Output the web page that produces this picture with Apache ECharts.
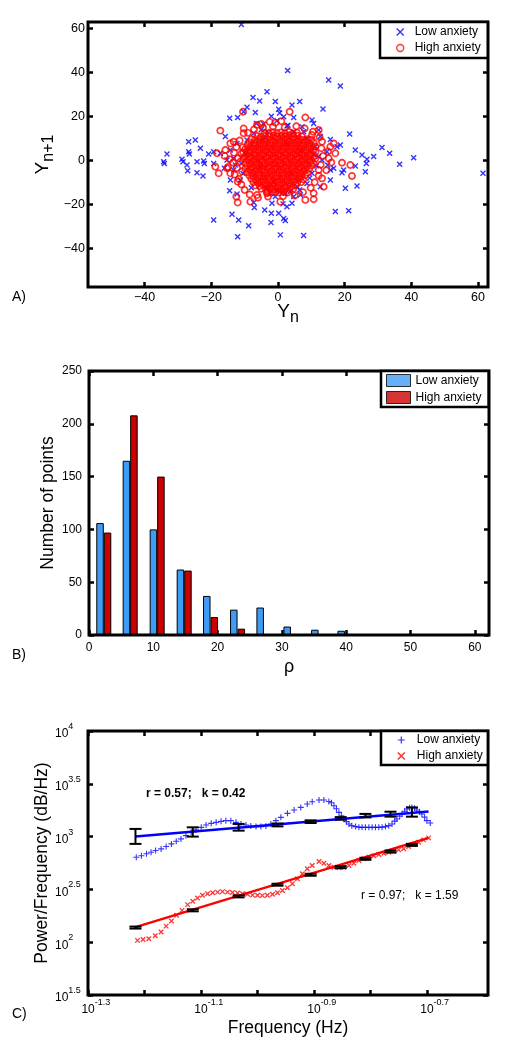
<!DOCTYPE html>
<html><head><meta charset="utf-8">
<script src="https://cdn.jsdelivr.net/npm/echarts@6/dist/echarts.min.js"></script>
<style>html,body{margin:0;padding:0;background:#fff}#c{width:516px;height:1050px}</style>
</head><body><div id="c"></div>
<script>
// ================= DATA =================
// Panel A: return map (Y_n, Y_n+1)
const lowAnxietyPts = [
[-11,61.8],[2.9,40.8],[15.2,36.5],[18.7,33.8],[-3.3,31.2],[-7.5,28.6],[-5.5,27],[-0.8,26.7],[6.5,26.7],[4.2,25.2],[-9.3,24.1],[13.5,23.3],[-10.3,22.1],[-6.8,21.8],[0.2,23.2],[1.7,19.8],[4.7,19.5],[-14.5,19.1],[-12.1,19.5],[7.2,15.3],[10.2,18.3],[10.7,16.8],[-6.5,16.8],[-4.3,16.5],[-0.3,18],[2.7,15.6],[-15.8,10.8],[-24.8,9.2],[-26.8,8.5],[-23.3,5.5],[-26.8,3.9],[-26.6,2.9],[-33.3,2.9],[-34.3,-0.6],[-34.1,-1.4],[-28.8,0.5],[-28.5,-0.6],[-27.3,-2.1],[-27.1,-4.7],[-24.3,-0.6],[-22.3,-0.3],[-22.1,-1.4],[-20.8,2.9],[-19.3,3.9],[-17.3,3.2],[-24.3,-5.6],[-22.5,-7.1],[-19.3,-1.4],[31.2,5.8],[33.5,3.2],[40.7,1.2],[36.5,-1.8],[28.7,1.7],[26.7,0.5],[25.2,2.4],[23.2,4.7],[26.5,-1.4],[26.2,-5.2],[61.5,-5.9],[21.5,12],[18.7,7],[15.7,9.5],[12.7,10.8],[15.7,-4.4],[16.7,-3.6],[19.7,-4.4],[19.2,-5.6],[23.2,-2.6],[23.7,-11.7],[20.2,-12.7],[15.7,-8.9],[17.2,-23.3],[21.2,-22.9],[-19.3,-27.1],[-13.8,-24.5],[-11.8,-27.1],[-8.8,-29.7],[-12.1,-34.7],[0.7,-33.9],[7.7,-34.2],[-7.1,-21.4],[-4,-22.6],[-2,-24.1],[-2.1,-28.3],[0.2,-24.1],[1.7,-26.4],[2.2,-27.4],[2.7,-21.1],[1.5,-19.8],[4.2,-19.5],[-1.8,-19.5],[4.7,-16.5],[-7.3,-19.2],[-14.5,-13.8],[-12.3,-15.3],[-14.3,-8.9],[-16.1,-3.6],[-13.3,-4.4],[-11.3,-8.9],[6.7,-15.8],[8.7,-10.5],[5.7,-12],[12.7,-12],[10.2,-5.9],[-2.3,-15],[-0.3,-13.8],[-3.3,-12.7],[12.2,1.7],[13.2,0.2],[14.9,-2.1],[14.7,3.9],[17.7,6.2],[11.2,6.2],[8.7,10],[7.7,13],[12.2,13.8],[4.7,13],[-3.3,13],[-7.3,12.3],[-9.3,9.2],[-12.3,7.7],[-14.3,4.7],[-13.3,0.9],[-12.8,-2.1],[-15.3,0.2],
[-4.3,9.2],[2.7,7.7],[6.7,4.7],[-5.3,-2.9],[3.7,-5.9],[-1.3,-9.7],[0.7,-14.2],[2.2,-15],[3.7,-14.2],[-0.8,-16.5],
[-10.5,-6],[-9.8,3],[-11,-1.5],[11.5,-2.5],[10.8,2.5],[9.5,-8],[-8,-12.5],[6.5,-13.5],[-5,14],[3,16],[-2,20],[0.5,21.5]
];
const highAnxietyPts = [
// outer points
[-10.5,22.1],[3.5,22.1],[8.2,19.5],[-17.3,13.5],[12.2,13.8],[-0.8,17.1],[-6.3,16.1],[-10.3,14.5],[10.2,11.5],[13.2,8.5],[15.7,6.2],[17.2,3.2],[-18.3,3.2],[-18.8,-2.9],[-17.8,-5.9],[19.2,-1.1],[21.7,-2.1],[22.2,-7.1],[13.7,-12],[10.7,-15],[10.7,-17.7],[8.2,-18],[0.7,-18.8],[-8.3,-18.8],[-12.1,-19.2],[-12.5,-16.5],[-12.1,-9.7],[-14.3,-5.9],[-15.3,-3.6],[-15.8,4.7],[-14.3,7.7],[-13.3,8.5],[-10.3,12.3],[-6.3,-15.8],[-3.3,-15],[12.2,-4.4],[13.2,-8.2],[15.2,0.9],[16.7,7.7],
// ring around the core
[-11.5,9],[-12.5,6],[-13.2,3.5],[-12,1],[-13.5,-1],[-12.3,-3.5],[-13,-6.5],[-11.8,-8.5],[-11,-11],[-10.5,6],[-11,3],[-11.3,-0.5],[-10.8,-5],[-10,-13.5],[-8.5,-15.5],[-6,-17],[-3,-16.5],[1.5,-16.3],[5,-16],[7.5,-14.5],[9.8,-12.5],[11,-10],[12.2,-7],[12.8,-2],[13.5,2],[13,5.5],[12.5,10.5],[10.5,13],[8,14.5],[5.5,15.5],[2,15],[-1.5,15.3],[-4.5,14.8],[-7.2,14],[-9,12.5],[-14.5,0.5],[-15,-3],[-16,2],[14.5,-4.5],[16,-1],[15,4],[-2.5,17.5],[1,17.8],[-5,16.5],
// dense core
[-4,12.6],[-2.7,12.2],[-1.5,12.8],[-0.3,12.4],[0.9,12.7],[2.1,12.3],[3.3,12.9],[4.4,12.2],[5.7,12.5],
[-6.2,11.1],[-5.1,10.8],[-3.9,11.3],[-2.6,10.9],[-1.3,11.2],[-0.2,10.8],[1.1,11.1],[2.3,10.9],[3.4,11.3],[4.7,10.8],[5.8,11.2],[7.1,10.9],
[-8,9.6],[-6.9,9.3],[-5.6,9.7],[-4.3,9.4],[-3.2,9.6],[-2.1,9.3],[-0.8,9.7],[0.4,9.4],[1.7,9.6],[2.8,9.3],[4.1,9.7],[5.2,9.4],[6.4,9.6],[7.5,9.3],[8.8,9.6],[10,9.4],
[-8.6,8.1],[-7.3,7.8],[-6.2,8.2],[-5.1,7.9],[-3.8,8.1],[-2.5,7.8],[-1.4,8.2],[-0.2,7.9],[1.1,8.1],[2.2,7.8],[3.4,8.2],[4.6,7.9],[5.9,8.1],[7,7.8],[8.2,8.2],[9.4,7.9],[10.7,8.1],
[-9.2,6.6],[-8.1,6.3],[-6.8,6.7],[-5.6,6.4],[-4.4,6.6],[-3.1,6.3],[-2,6.7],[-0.8,6.4],[0.4,6.6],[1.7,6.3],[2.8,6.7],[4,6.4],[5.3,6.6],[6.4,6.3],[7.6,6.7],[8.9,6.4],[10,6.6],[11.2,6.3],
[-9.8,5.1],[-8.6,4.8],[-7.4,5.2],[-6.1,4.9],[-5,5.1],[-3.8,4.8],[-2.5,5.2],[-1.4,4.9],[-0.2,5.1],[1.1,4.8],[2.2,5.2],[3.4,4.9],[4.7,5.1],[5.8,4.8],[7,5.2],[8.3,4.9],[9.4,5.1],[10.6,4.8],
[-10.4,3.6],[-9.2,3.3],[-8.1,3.7],[-6.8,3.4],[-5.6,3.6],[-4.4,3.3],[-3.1,3.7],[-2,3.4],[-0.8,3.6],[0.4,3.3],[1.7,3.7],[2.8,3.4],[4.1,3.6],[5.2,3.3],[6.4,3.7],[7.7,3.4],[8.8,3.6],[10,3.3],[11.2,3.7],
[-9.8,2.1],[-8.6,1.8],[-7.3,2.2],[-6.2,1.9],[-5,2.1],[-3.7,1.8],[-2.6,2.2],[-1.4,1.9],[-0.1,2.1],[1,1.8],[2.2,2.2],[3.5,1.9],[4.6,2.1],[5.8,1.8],[7.1,2.2],[8.2,1.9],[9.4,2.1],[10.7,1.8],
[-10.4,0.6],[-9.1,0.3],[-8,0.7],[-6.8,0.4],[-5.5,0.6],[-4.4,0.3],[-3.2,0.7],[-1.9,0.4],[-0.8,0.6],[0.4,0.3],[1.7,0.7],[2.8,0.4],[4,0.6],[5.3,0.3],[6.4,0.7],[7.6,0.4],[8.9,0.6],[10,0.3],[11.2,0.7],
[-9.8,-0.9],[-8.5,-1.2],[-7.4,-0.8],[-6.2,-1.1],[-4.9,-0.9],[-3.8,-1.2],[-2.6,-0.8],[-1.3,-1.1],[-0.2,-0.9],[1,-1.2],[2.3,-0.8],[3.4,-1.1],[4.6,-0.9],[5.9,-1.2],[7,-0.8],[8.2,-1.1],[9.5,-0.9],[10.6,-1.2],
[-9.2,-2.4],[-8,-2.7],[-6.7,-2.3],[-5.6,-2.6],[-4.4,-2.4],[-3.1,-2.7],[-2,-2.3],[-0.8,-2.6],[0.5,-2.4],[1.6,-2.7],[2.8,-2.3],[4.1,-2.6],[5.2,-2.4],[6.4,-2.7],[7.7,-2.3],[8.8,-2.6],[10,-2.4],
[-9.8,-3.9],[-8.5,-4.2],[-7.4,-3.8],[-6.2,-4.1],[-4.9,-3.9],[-3.8,-4.2],[-2.6,-3.8],[-1.3,-4.1],[-0.2,-3.9],[1,-4.2],[2.3,-3.8],[3.4,-4.1],[4.6,-3.9],[5.9,-4.2],[7,-3.8],[8.2,-4.1],[9.4,-3.9],
[-9.2,-5.4],[-7.9,-5.7],[-6.8,-5.3],[-5.6,-5.6],[-4.3,-5.4],[-3.2,-5.7],[-2,-5.3],[-0.7,-5.6],[0.4,-5.4],[1.6,-5.7],[2.9,-5.3],[4,-5.6],[5.2,-5.4],[6.5,-5.7],[7.6,-5.3],[8.8,-5.6],
[-8.6,-6.9],[-7.4,-7.2],[-6.1,-6.8],[-5,-7.1],[-3.8,-6.9],[-2.5,-7.2],[-1.4,-6.8],[-0.2,-7.1],[1.1,-6.9],[2.2,-7.2],[3.4,-6.8],[4.7,-7.1],[5.8,-6.9],[7,-7.2],[8.2,-6.8],
[-8,-8.4],[-6.7,-8.7],[-5.6,-8.3],[-4.4,-8.6],[-3.1,-8.4],[-2,-8.7],[-0.8,-8.3],[0.5,-8.6],[1.6,-8.4],[2.8,-8.7],[4.1,-8.3],[5.2,-8.6],[6.4,-8.4],[7.6,-8.7],
[-7.4,-9.9],[-6.1,-10.2],[-5,-9.8],[-3.8,-10.1],[-2.5,-9.9],[-1.4,-10.2],[-0.2,-9.8],[1.1,-10.1],[2.2,-9.9],[3.4,-10.2],[4.7,-9.8],[5.8,-10.1],[7,-9.9],
[-6.8,-11.4],[-5.5,-11.7],[-4.4,-11.3],[-3.2,-11.6],[-1.9,-11.4],[-0.8,-11.7],[0.4,-11.3],[1.7,-11.6],[2.8,-11.4],[4,-11.7],[5.3,-11.3],
[-5,-12.9],[-3.7,-13.2],[-2.6,-12.8],[-1.4,-13.1],[-0.1,-12.9],[1,-13.2],[2.2,-12.8],[3.5,-13.1],[4.6,-12.9],
[-3.2,-14.4],[-1.9,-14.7],[-0.8,-14.3],[0.4,-14.6],[1.7,-14.4],[2.8,-14.7]
];
const ticksA = [-40, -20, 0, 20, 40, 60];

// Panel B: histogram of rho
const rhoBins = [2.3, 6.4, 10.6, 14.8, 18.9, 23.1, 27.2, 31.4, 35.7, 39.8, 44.0, 48.2, 52.3, 56.5, 60.6];
const lowCounts = [106, 165, 100, 62, 37, 24, 26, 8, 5, 4, 0, 0, 0, 0, 1];
const highCounts = [97, 208, 150, 61, 17, 6, 0, 0, 0, 0, 0, 0, 0, 0, 0];
const ticksBx = [0, 10, 20, 30, 40, 50, 60];
const ticksBy = [0, 50, 100, 150, 200, 250];

// Panel C: power spectra
const lowF = [0.0610,0.0623,0.0636,0.0648,0.0660,0.0675,0.0689,0.0704,0.0718,0.0732,0.0747,0.0763,0.0778,0.0795,0.0811,0.0828,0.0845,0.0862,0.0879,0.0897,0.0916,0.0935,0.0954,0.0973,0.0994,0.1014,0.1035,0.1056,0.1078,0.1100,0.1130,0.1161,0.1193,0.1225,0.1250,0.1285,0.1311,
  0.1338,0.1352,0.1366,0.1380,0.1394,0.1408,0.1422,0.1437,0.1452,0.1469,0.1492,0.1512,0.1532,0.1553,0.1575,0.1596,0.1618,0.1640,0.1662,0.1685,0.1708,0.1731,0.1750,0.1766,0.1786,0.1803,0.1822,0.1840,0.1859,0.1877,0.1898,0.1915,0.1937,0.1955,0.1977,0.1995,0.2023];
const lowP = [638,658,687,711,738,765,805,853,903,951,1022,1098,1157,1224,1289,1335,1365,1394,1416,1416,1365,1318,1289,1262,1243,1243,1262,1318,1416,1521,1660,1786,1890,2035,2138,2219,2219,
  2153,2093,1961,1838,1695,1578,1469,1385,1318,1270,1243,1229,1224,1224,1224,1224,1224,1224,1229,1243,1270,1318,1400,1469,1561,1637,1740,1825,1878,1890,1857,1786,1721,1637,1528,1416,1347];
const highF = [0.0613,0.0627,0.0642,0.0659,0.0675,0.0689,0.0704,0.0719,0.0735,0.0752,0.0768,0.0783,0.0799,0.0816,0.0833,0.0850,0.0867,0.0885,0.0903,0.0922,0.0941,0.0960,0.0980,0.1000,0.1020,0.1041,0.1063,0.1085,0.1107,0.1130,0.1153,0.1177,0.1201,0.1225,0.1250,0.1285,0.1311,0.1338,0.1366,0.1394,0.1422,0.1452,0.1481,0.1512,0.1543,0.1575,0.1607,0.1640,0.1674,0.1708,0.1743,0.1778,0.1815,0.1852,0.1890,0.1929,0.1968,0.2009];
const highP = [104,106,108,115,125,142,159,180,200,227,244,262,278,288,294,298,301,298,296,292,288,284,279,278,276,278,284,294,309,328,358,399,445,496,533,581,560,533,513,507,513,533,560,594,616,638,658,676,696,711,727,749,766,805,840,883,931,972];
const fitLowF = [0.0608, 0.2009], fitLowP = [1000, 1733];
const fitHighF = [0.0608, 0.2009], fitHighP = [139, 972];
const errF = [0.0608,0.0768,0.0926,0.1085,0.1242,0.1404,0.1553,0.1720,0.1877];
const errLowLo = [853,1000,1139,1250,1345,1445,1520,1545,1545];
const errLowHi = [1182,1224,1318,1330,1425,1530,1640,1721,1890];
const errHighLo = [134.6,196,265.8,342.7,425.8,502.2,602.8,706.5,817];
const errHighHi = [140.6,205,277.6,357.9,444.8,524.5,629.7,737.9,853.4];
const cXTickExp = [-1.3,-1.2,-1.1,-1.0,-0.9,-0.8,-0.7];
const cXLabelExp = [-1.3,-1.1,-0.9,-0.7];
const cYTickExp = [1.5,2,2.5,3,3.5,4];

// ================= CHART =================
const FONT = "'Liberation Sans', Arial, Helvetica, sans-serif";
const X_PATH = 'path://M0,0L10,10M10,0L0,10';
const PLUS_PATH = 'path://M5,0L5,10M0,5L10,5';
const pow10 = e => Math.pow(10, e);
const signed = v => (v < 0 ? '\u2212' + (-v) : String(v));
const expLabel = v => { const e = Math.round(Math.log10(v) * 10) / 10; return '{b|10}{s|' + e + '}'; };

const tick = vals => ({ show: true, inside: true, length: 5, lineStyle: { color: '#000', width: 2.5 }, customValues: vals });
const lbl = (vals, fmt, margin, size) => ({ customValues: vals, formatter: fmt, margin: margin, color: '#000', fontSize: size || 12, fontFamily: FONT });
const base = { axisLine: { show: false, onZero: false }, splitLine: { show: false }, nameMoveOverlap: false };

const nameStyle = size => ({ fontSize: size, fontFamily: FONT, color: '#000' });

const chart = echarts.init(document.getElementById('c'), null, { renderer: 'canvas' });

function errRender(params, api) {
  const f = api.value(0), lo = api.value(1), hi = api.value(2);
  const a = api.coord([f, lo]), b = api.coord([f, hi]);
  const w = 6;
  const st = { stroke: '#000', lineWidth: 2 };
  return { type: 'group', children: [
    { type: 'line', shape: { x1: a[0], y1: a[1], x2: b[0], y2: b[1] }, style: st },
    { type: 'line', shape: { x1: a[0] - w, y1: a[1], x2: a[0] + w, y2: a[1] }, style: st },
    { type: 'line', shape: { x1: b[0] - w, y1: b[1], x2: b[0] + w, y2: b[1] }, style: st }
  ] };
}

const gridCommon = { show: true, borderColor: '#000', borderWidth: 3, backgroundColor: 'transparent', z: 5, containLabel: false, outerBoundsMode: 'none' };
const legendCommon = { orient: 'vertical', itemGap: 0, borderColor: '#000', borderWidth: 2.5, backgroundColor: '#fff', selectedMode: false, z: 6 };

const supRich = (sWidth) => ({
  b: { fontSize: 12, fontFamily: FONT, color: '#000', lineHeight: 18, verticalAlign: 'bottom', align: 'left' },
  s: Object.assign({ fontSize: 9, fontFamily: FONT, color: '#000', lineHeight: 9, verticalAlign: 'top', align: 'left' }, sWidth ? { width: sWidth } : {})
});

const option = {
  animation: false,
  backgroundColor: '#fff',
  textStyle: { fontFamily: FONT },
  grid: [
    Object.assign({ left: 88, top: 22, width: 400, height: 265 }, gridCommon),
    Object.assign({ left: 89, top: 371, width: 400, height: 264 }, gridCommon),
    Object.assign({ left: 88, top: 731, width: 400, height: 264 }, gridCommon)
  ],
  xAxis: [
    Object.assign({ gridIndex: 0, type: 'value', position: 'bottom', min: -57, max: 63, axisTick: tick(ticksA), axisLabel: lbl(ticksA, signed, 4, 12.5),
      name: '{Y|Y}{s|n}', nameLocation: 'middle', nameGap: 11,
      nameTextStyle: { rich: { Y: nameStyle(19), s: Object.assign(nameStyle(16), { padding: [12, 0, 0, 0] }) } } }, base),
    Object.assign({ gridIndex: 0, type: 'value', position: 'top', min: -57, max: 63, axisTick: tick(ticksA), axisLabel: { show: false } }, base),
    Object.assign({ gridIndex: 1, type: 'value', position: 'bottom', min: 0, max: 62.2, axisTick: tick(ticksBx), axisLabel: lbl(ticksBx, v => String(v), 7),
      name: '\u03c1', nameLocation: 'middle', nameGap: 23, nameTextStyle: nameStyle(18) }, base),
    Object.assign({ gridIndex: 1, type: 'value', position: 'top', min: 0, max: 62.2, axisTick: tick(ticksBx), axisLabel: { show: false } }, base),
    Object.assign({ gridIndex: 2, type: 'log', logBase: 10, position: 'bottom', min: 0.0501, max: 0.256,
      axisTick: tick(cXTickExp.map(pow10)),
      axisLabel: { customValues: cXLabelExp.map(pow10), formatter: expLabel, margin: 3, color: '#000', padding: [0, 0, 0, 17], rich: supRich(17) },
      name: 'Frequency (Hz)', nameLocation: 'middle', nameGap: 24, nameTextStyle: nameStyle(17.5) }, base),
    Object.assign({ gridIndex: 2, type: 'log', logBase: 10, position: 'top', min: 0.0501, max: 0.256, axisTick: tick(cXTickExp.map(pow10)), axisLabel: { show: false } }, base)
  ],
  yAxis: [
    Object.assign({ gridIndex: 0, type: 'value', position: 'left', min: -57.6, max: 62.9, axisTick: tick(ticksA), axisLabel: lbl(ticksA, signed, 3, 12.5),
      name: '{Y|Y}{s|n+1}', nameLocation: 'middle', nameGap: 31, nameRotate: 90,
      nameTextStyle: { rich: { Y: nameStyle(19), s: Object.assign(nameStyle(16), { padding: [12, 0, 0, 0] }) } } }, base),
    Object.assign({ gridIndex: 0, type: 'value', position: 'right', min: -57.6, max: 62.9, axisTick: tick(ticksA), axisLabel: { show: false } }, base),
    Object.assign({ gridIndex: 1, type: 'value', position: 'left', min: 0, max: 250, axisTick: tick(ticksBy), axisLabel: lbl(ticksBy, v => String(v), 7),
      name: 'Number of points', nameLocation: 'middle', nameGap: 32, nameRotate: 90, nameTextStyle: nameStyle(17.5) }, base),
    Object.assign({ gridIndex: 1, type: 'value', position: 'right', min: 0, max: 250, axisTick: tick(ticksBy), axisLabel: { show: false } }, base),
    Object.assign({ gridIndex: 2, type: 'log', logBase: 10, position: 'left', min: 31.62, max: 10000,
      axisTick: tick(cYTickExp.map(pow10)),
      axisLabel: { customValues: cYTickExp.map(pow10), formatter: expLabel, margin: 33, align: 'left', color: '#000', rich: supRich(0) },
      name: 'Power/Frequency (dB/Hz)', nameLocation: 'middle', nameGap: 37, nameRotate: 90, nameTextStyle: nameStyle(17.5) }, base),
    Object.assign({ gridIndex: 2, type: 'log', logBase: 10, position: 'right', min: 31.62, max: 10000, axisTick: tick(cYTickExp.map(pow10)), axisLabel: { show: false } }, base)
  ],
  legend: [
    Object.assign({ left: 380, top: 22, padding: [2, 7, 2, 16], itemWidth: 7, itemHeight: 7,
      textStyle: { fontSize: 12, fontFamily: FONT, color: '#000', lineHeight: 16, padding: [0, 0, 0, 6] },
      data: [
        { name: 'Low anxiety', icon: X_PATH, itemStyle: { color: '#0000ff', borderColor: '#0000ff', borderWidth: 1.4 } },
        { name: 'High anxiety', icon: 'circle', itemStyle: { color: 'rgba(0,0,0,0)', borderColor: '#ff0000', borderWidth: 1.4 } }
      ] }, legendCommon),
    Object.assign({ left: 381, top: 371, padding: [1, 7, 1, 5], itemWidth: 24, itemHeight: 12,
      textStyle: { fontSize: 12, fontFamily: FONT, color: '#000', lineHeight: 17 },
      data: [
        { name: 'Low anxiety', icon: 'rect', itemStyle: { color: '#3f9cf6', borderColor: '#000', borderWidth: 1 } },
        { name: 'High anxiety', icon: 'rect', itemStyle: { color: '#cc0000', borderColor: '#000', borderWidth: 1 } }
      ] }, legendCommon),
    Object.assign({ left: 381, top: 731, padding: [1, 5, 1, 16], itemWidth: 7, itemHeight: 7,
      textStyle: { fontSize: 12, fontFamily: FONT, color: '#000', lineHeight: 16, padding: [0, 0, 0, 7] },
      data: [
        { name: 'Low anxiety', icon: PLUS_PATH, itemStyle: { color: '#0000ff', borderColor: '#0000ff', borderWidth: 1.2 } },
        { name: 'High anxiety', icon: X_PATH, itemStyle: { color: '#ff0000', borderColor: '#ff0000', borderWidth: 1.6 } }
      ] }, legendCommon)
  ],
  graphic: [
    { type: 'text', x: 12, y: 297, style: { text: 'A)', font: '14px ' + FONT, fill: '#000', verticalAlign: 'middle' } },
    { type: 'text', x: 12, y: 655, style: { text: 'B)', font: '14px ' + FONT, fill: '#000', verticalAlign: 'middle' } },
    { type: 'text', x: 12, y: 1014, style: { text: 'C)', font: '14px ' + FONT, fill: '#000', verticalAlign: 'middle' } },
    { type: 'text', x: 146, y: 794, z: 10, style: { text: 'r = 0.57;   k = 0.42', font: 'bold 12px ' + FONT, fill: '#000', verticalAlign: 'middle' } },
    { type: 'text', x: 361, y: 896, z: 10, style: { text: 'r = 0.97;   k = 1.59', font: '12px ' + FONT, fill: '#000', verticalAlign: 'middle' } }
  ],
  series: [
    { name: 'Low anxiety', type: 'scatter', xAxisIndex: 0, yAxisIndex: 0, data: lowAnxietyPts,
      symbol: X_PATH, symbolSize: 5, itemStyle: { color: '#0000ff', borderColor: '#0000ff', borderWidth: 1.4 } },
    { name: 'High anxiety', type: 'scatter', xAxisIndex: 0, yAxisIndex: 0, data: highAnxietyPts,
      symbol: 'circle', symbolSize: 6.2, itemStyle: { color: 'rgba(0,0,0,0)', borderColor: '#ff0000', borderWidth: 1.7 } },
    { name: 'Low anxiety', type: 'bar', xAxisIndex: 2, yAxisIndex: 2, data: rhoBins.map((x, i) => [x, lowCounts[i]]),
      barWidth: 7.5, barGap: '0%', itemStyle: { color: '#3f9cf6', borderColor: '#000', borderWidth: 1 } },
    { name: 'High anxiety', type: 'bar', xAxisIndex: 2, yAxisIndex: 2, data: rhoBins.map((x, i) => [x, highCounts[i]]),
      barWidth: 7.5, barGap: '0%', itemStyle: { color: '#cc0000', borderColor: '#000', borderWidth: 1 } },
    { name: 'Low anxiety', type: 'scatter', xAxisIndex: 4, yAxisIndex: 4, data: lowF.map((f, i) => [f, lowP[i]]),
      symbol: PLUS_PATH, symbolSize: 6, itemStyle: { color: '#0000ff', borderColor: '#0000ff', borderWidth: 1.1 } },
    { name: 'High anxiety', type: 'scatter', xAxisIndex: 4, yAxisIndex: 4, data: highF.map((f, i) => [f, highP[i]]),
      symbol: X_PATH, symbolSize: 4.5, itemStyle: { color: '#ff0000', borderColor: '#ff0000', borderWidth: 1.3 } },
    { name: 'fitLow', type: 'line', xAxisIndex: 4, yAxisIndex: 4, data: fitLowF.map((f, i) => [f, fitLowP[i]]),
      symbol: 'none', lineStyle: { color: '#0000ff', width: 2.5 } },
    { name: 'fitHigh', type: 'line', xAxisIndex: 4, yAxisIndex: 4, data: fitHighF.map((f, i) => [f, fitHighP[i]]),
      symbol: 'none', lineStyle: { color: '#ff0000', width: 2.5 } },
    { name: 'errLow', type: 'custom', xAxisIndex: 4, yAxisIndex: 4, renderItem: errRender, z: 4,
      encode: { x: 0, y: [1, 2] }, data: errF.map((f, i) => [f, errLowLo[i], errLowHi[i]]) },
    { name: 'errHigh', type: 'custom', xAxisIndex: 4, yAxisIndex: 4, renderItem: errRender, z: 4,
      encode: { x: 0, y: [1, 2] }, data: errF.map((f, i) => [f, errHighLo[i], errHighHi[i]]) }
  ]
};
chart.setOption(option);
</script>
</body></html>
